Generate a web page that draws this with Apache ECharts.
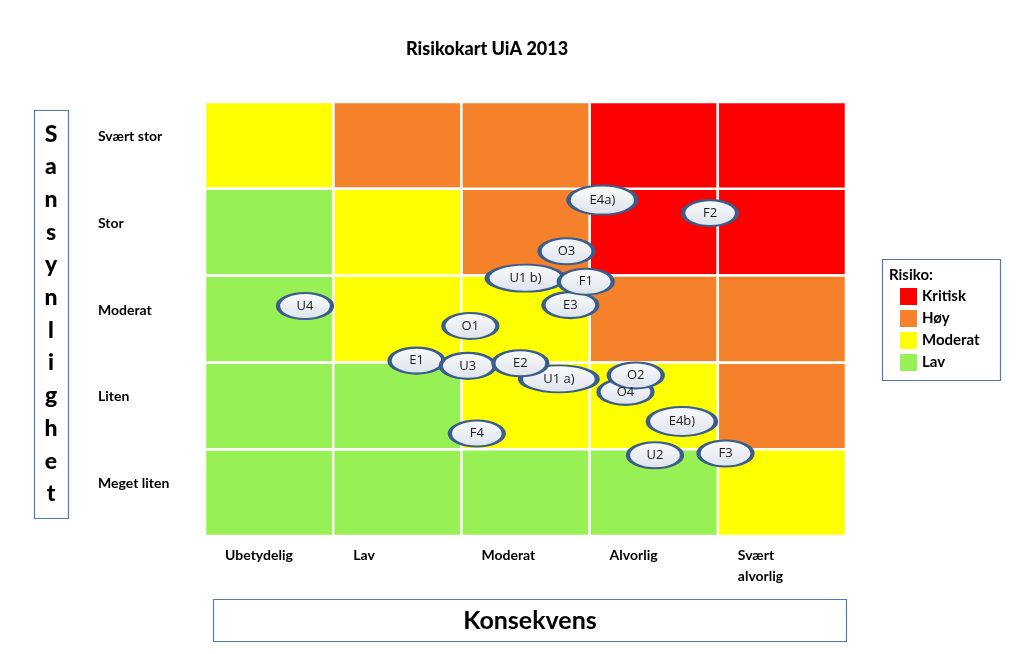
<!DOCTYPE html>
<html>
<head>
<meta charset="utf-8">
<script src="https://cdn.jsdelivr.net/npm/echarts@6/dist/echarts.min.js"></script>
<style>
html,body{margin:0;padding:0;background:#fff;}
#chart{width:1023px;height:654px;}
</style>
</head>
<body>
<div id="chart"></div>
<script>
// ---- data ----
const consequenceLabels = ['Ubetydelig', 'Lav', 'Moderat', 'Alvorlig', 'Svært\nalvorlig'];
const likelihoodLabels = ['Meget liten', 'Liten', 'Moderat', 'Stor', 'Svært stor']; // bottom -> top
const riskLevels = ['Kritisk', 'Høy', 'Moderat', 'Lav'];
// risk level index per cell, rows bottom -> top, columns left -> right (0=Kritisk,1=Høy,2=Moderat,3=Lav)
const riskRow1 = [3, 3, 3, 3, 2]; // Meget liten
const riskRow2 = [3, 3, 2, 2, 1]; // Liten
const riskRow3 = [3, 2, 2, 1, 1]; // Moderat
const riskRow4 = [3, 2, 1, 0, 0]; // Stor
const riskRow5 = [2, 1, 1, 0, 0]; // Svært stor
// risk items (drawing order)
const itemLabels      = ['E4a)', 'F2', 'O3', 'U1 b)', 'E3', 'F1', 'U4', 'O1', 'E1', 'U3', 'U1 a)', 'E2', 'O4', 'O2', 'E4b)', 'F4', 'U2', 'F3'];
const itemConsequence = [3.10, 3.94, 2.82, 2.50, 2.85, 2.97, 0.78, 2.07, 1.65, 2.05, 2.76, 2.46, 3.28, 3.36, 3.72, 2.12, 3.51, 4.06];
const itemLikelihood  = [3.87, 3.72, 3.28, 2.97, 2.66, 2.93, 2.65, 2.42, 2.02, 1.96, 1.81, 1.99, 1.66, 1.85, 1.32, 1.18, 0.93, 0.95];

// ---- build ----
const riskColors = ['#FF0000', '#F5822A', '#FFFF00', '#97F155'];
const riskMatrix = [riskRow1, riskRow2, riskRow3, riskRow4, riskRow5];
const FONT = 'Lato, "Open Sans", sans-serif';

const cellSeries = riskLevels.map((name, lvl) => {
  const data = [];
  riskMatrix.forEach((row, r) => row.forEach((v, c) => { if (v === lvl) data.push([c, r]); }));
  return {
    type: 'custom',
    name: name,
    itemStyle: { color: riskColors[lvl] },
    data: data,
    z: 1,
    renderItem: function (params, api) {
      const p0 = api.coord([api.value(0), api.value(1) + 1]);
      const p1 = api.coord([api.value(0) + 1, api.value(1)]);
      return {
        type: 'rect',
        shape: { x: p0[0], y: p0[1], width: p1[0] - p0[0], height: p1[1] - p0[1] },
        style: { fill: riskColors[lvl], stroke: '#FFFFFF', lineWidth: 2.5 }
      };
    }
  };
});

const ellipsePath = 'path://M0,10 A10,10 0 1 1 20,10 A10,10 0 1 1 0,10 Z';
const scatterData = itemLabels.map((n, i) => ({ name: n, value: [itemConsequence[i], itemLikelihood[i]] }));

function sizeFor(label) {
  if (label.indexOf(' ') >= 0) return [77, 27];
  if (label.length > 2) return [68, 29];
  return [54, 26];
}

const chart = echarts.init(document.getElementById('chart'), null, { renderer: 'canvas' });
chart.setOption({
  animation: false,
  backgroundColor: '#FFFFFF',
  title: {
    text: 'Risikokart UiA 2013',
    left: 401, top: 35,
    textStyle: { fontFamily: FONT, fontWeight: 900, fontSize: 18, color: '#000' }
  },
  grid: { left: 205, right: 177, top: 102, bottom: 118 },
  legend: {
    data: riskLevels,
    orient: 'vertical',
    left: 900, top: 288,
    itemWidth: 17, itemHeight: 17, itemGap: 5,
    icon: 'rect',
    padding: 0,
    textStyle: { fontFamily: FONT, fontWeight: 'bold', fontSize: 15, color: '#000' }
  },
  xAxis: [{
    type: 'value', min: 0, max: 5, interval: 1,
    axisLine: { show: false }, axisTick: { show: false }, splitLine: { show: false },
    axisLabel: {
      formatter: v => consequenceLabels[v] || '',
      align: 'left', verticalAlign: 'top', margin: 9,
      padding: [0, 0, 0, 20],
      lineHeight: 21,
      fontFamily: FONT, fontWeight: 'bold', fontSize: 14, color: '#000'
    }
  }],
  yAxis: [{
    type: 'value', min: 0, max: 5, interval: 1, show: false
  }, {
    type: 'category', data: likelihoodLabels, position: 'left',
    axisLine: { show: false }, axisTick: { show: false }, splitLine: { show: false },
    axisLabel: {
      align: 'left', margin: 107,
      verticalAlign: 'bottom', lineHeight: 18,
      fontFamily: FONT, fontWeight: 'bold', fontSize: 14, color: '#000'
    }
  }],
  graphic: [
    { type: 'rect', shape: { x: 34.5, y: 110.5, width: 34, height: 408 }, style: { fill: 'none', stroke: '#4F7BBA', lineWidth: 1.2 } },
    { type: 'text', style: { x: 51, y: 314, text: 'Sansynlighet'.split('').join('\n'), textAlign: 'center', textVerticalAlign: 'middle', font: '900 23px ' + FONT, lineHeight: 32.7, fill: '#000' } },
    { type: 'rect', shape: { x: 213.5, y: 599.5, width: 633, height: 42 }, style: { fill: 'none', stroke: '#4F7BBA', lineWidth: 1.2 } },
    { type: 'text', style: { x: 530, y: 621, text: 'Konsekvens', textAlign: 'center', textVerticalAlign: 'middle', font: 'bold 25px ' + FONT, fill: '#000' } },
    { type: 'rect', shape: { x: 882.5, y: 259.5, width: 118, height: 121 }, style: { fill: 'none', stroke: '#4F7BBA', lineWidth: 1.2 } },
    { type: 'text', style: { x: 889, y: 275, text: 'Risiko:', textVerticalAlign: 'middle', font: 'bold 15px ' + FONT, fill: '#000' } }
  ],
  series: cellSeries.concat([{
    type: 'scatter',
    name: 'Risikoer',
    z: 5,
    symbol: ellipsePath,
    symbolKeepAspect: false,
    symbolSize: (val, params) => sizeFor(params.name),
    data: scatterData,
    itemStyle: {
      color: { type: 'linear', x: 0, y: 0, x2: 0, y2: 1, colorStops: [{ offset: 0, color: '#FAFBFC' }, { offset: 1, color: '#DDE3EC' }] },
      borderColor: '#3A5D8C', borderWidth: 3, opacity: 1
    },
    label: {
      show: true, position: 'inside', formatter: '{b}',
      fontFamily: '"Liberation Sans Narrow", "Open Sans", sans-serif', fontSize: 13, color: '#1A1A1A'
    },
    emphasis: { disabled: true }
  }])
});
</script>
</body>
</html>
